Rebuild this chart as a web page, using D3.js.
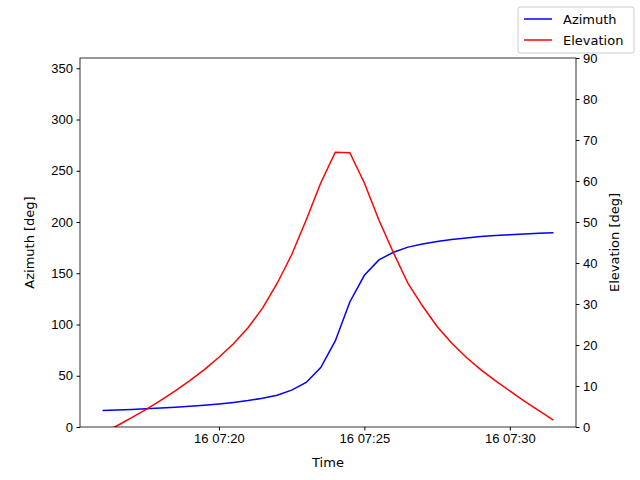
<!DOCTYPE html>
<html><head><meta charset="utf-8">
<script src="https://cdn.jsdelivr.net/npm/d3@7"></script>
<style>body{margin:0;background:#fff}svg{font-family:"DejaVu Sans",sans-serif}</style>
</head><body>
<svg id="chart" width="640" height="480"></svg>
<script>
// Samples every 30 s starting 16 07:16:00
const startTime = new Date(Date.UTC(2000, 0, 16, 7, 16, 0));
const azimuth = [16, 16.5, 17, 17.7, 18.5, 19.3, 20.2, 21.3, 22.5, 24, 25.8, 28, 31, 36, 43.5, 58,
    84, 122, 148, 163, 170.5, 175.5, 178.5, 181, 183, 184.5, 185.8, 186.8, 187.6, 188.3, 189, 189.5];
const elevation = [-1.5, 0.3, 2.3, 4.3, 6.5, 8.8, 11.3, 14, 17, 20.3, 24.2, 29, 35, 42, 50.5, 59.5,
    67, 66.9, 59.5, 50.5, 42.5, 35, 29.5, 24.5, 20.5, 17, 14, 11.3, 8.8, 6.3, 4, 1.7];
const times = azimuth.map((_, i) => new Date(startTime.getTime() + i * 30000));
const leftTicks = [0, 50, 100, 150, 200, 250, 300, 350];
const rightTicks = [0, 10, 20, 30, 40, 50, 60, 70, 80, 90];
const timeTicks = [20, 25, 30].map(m => new Date(Date.UTC(2000, 0, 16, 7, m, 0)));

const svg = d3.select('#chart');
const L = 80, R = 576, T = 58, B = 427;
const FS = 13;

const span = times[times.length - 1] - times[0];
const x = d3.scaleUtc()
    .domain([new Date(times[0].getTime() - span * 0.05), new Date(times[times.length - 1].getTime() + span * 0.05)])
    .range([L, R]);
const yL = d3.scaleLinear().domain([0, 360]).range([B, T]);
const yR = d3.scaleLinear().domain([0, 90]).range([B, T]);

const fmt = d => '16 ' + d3.utcFormat('%H:%M')(d);

svg.append('clipPath').attr('id', 'clip').append('rect')
    .attr('x', L).attr('y', T).attr('width', R - L).attr('height', B - T);

const plot = svg.append('g').attr('clip-path', 'url(#clip)');
plot.append('path').datum(azimuth)
    .attr('fill', 'none').attr('stroke', 'blue').attr('stroke-width', 1.5)
    .attr('d', d3.line().x((d, i) => x(times[i])).y(d => yL(d)));
plot.append('path').datum(elevation)
    .attr('fill', 'none').attr('stroke', 'red').attr('stroke-width', 1.5)
    .attr('d', d3.line().x((d, i) => x(times[i])).y(d => yR(d)));

function style(g) {
    g.selectAll('text').attr('font-size', FS).attr('fill', '#000');
    g.selectAll('line').attr('stroke', '#000');
    g.select('.domain').remove();
}
svg.append('g').attr('transform', `translate(0,${B})`)
    .call(d3.axisBottom(x).tickValues(timeTicks).tickFormat(fmt).tickSize(3.5).tickPadding(3.5)).call(style);
svg.append('g').attr('transform', `translate(${L},0)`)
    .call(d3.axisLeft(yL).tickValues(leftTicks).tickSize(3.5).tickPadding(3.5)).call(style);
svg.append('g').attr('transform', `translate(${R},0)`)
    .call(d3.axisRight(yR).tickValues(rightTicks).tickSize(3.5).tickPadding(3.5)).call(style);

svg.append('rect').attr('x', L).attr('y', T).attr('width', R - L).attr('height', B - T)
    .attr('fill', 'none').attr('stroke', '#000').attr('stroke-width', 0.8);

svg.append('text').attr('x', (L + R) / 2).attr('y', 467).attr('text-anchor', 'middle')
    .attr('font-size', FS).text('Time');
svg.append('text').attr('transform', `translate(34,${(T + B) / 2}) rotate(-90)`)
    .attr('text-anchor', 'middle').attr('font-size', FS).text('Azimuth [deg]');
svg.append('text').attr('transform', `translate(619,${(T + B) / 2}) rotate(-90)`)
    .attr('text-anchor', 'middle').attr('font-size', FS).text('Elevation [deg]');

// Legend
const lg = svg.append('g').attr('transform', 'translate(518,7)');
lg.append('rect').attr('width', 116).attr('height', 46).attr('rx', 2)
    .attr('fill', '#fff').attr('stroke', '#ccc');
[['Azimuth', 'blue'], ['Elevation', 'red']].forEach(([name, c], i) => {
    const yy = 12 + i * 21;
    lg.append('line').attr('x1', 6).attr('x2', 34).attr('y1', yy).attr('y2', yy)
        .attr('stroke', c).attr('stroke-width', 1.5);
    lg.append('text').attr('x', 45).attr('y', yy + 5).attr('font-size', FS).text(name);
});
</script>
</body></html>
